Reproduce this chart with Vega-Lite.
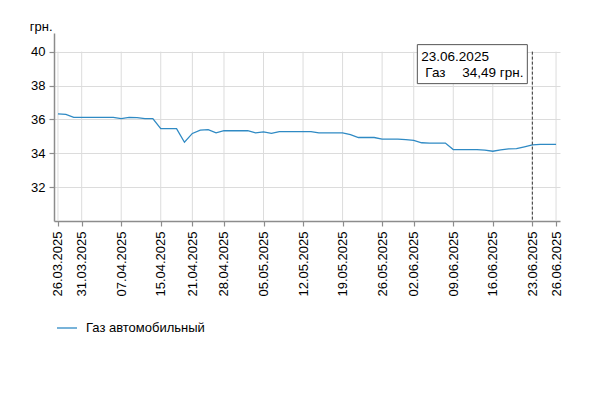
{
  "$schema": "https://vega.github.io/schema/vega-lite/v6.json",
  "autosize": {"type": "none"},
  "padding": {"left": 54, "top": 33, "right": 41, "bottom": 172},
  "width": 506,
  "height": 188,
  "config": {
    "view": {"stroke": null},
    "font": "Liberation Sans",
    "axis": {
      "labelFont": "Liberation Sans",
      "labelFontSize": 13,
      "labelColor": "#000000",
      "domainColor": "#8c8c8c",
      "domainWidth": 1.5,
      "tickColor": "#8c8c8c",
      "tickWidth": 1.2,
      "tickSize": 5,
      "gridColor": "#dcdcdc",
      "gridWidth": 1
    }
  },
  "data": {
    "values": [
      {"date": "26.03.2025", "price": 36.33},
      {"date": "27.03.2025", "price": 36.30},
      {"date": "28.03.2025", "price": 36.12},
      {"date": "31.03.2025", "price": 36.12},
      {"date": "01.04.2025", "price": 36.12},
      {"date": "02.04.2025", "price": 36.12},
      {"date": "03.04.2025", "price": 36.12},
      {"date": "04.04.2025", "price": 36.12},
      {"date": "07.04.2025", "price": 36.05},
      {"date": "08.04.2025", "price": 36.12},
      {"date": "09.04.2025", "price": 36.10},
      {"date": "10.04.2025", "price": 36.05},
      {"date": "11.04.2025", "price": 36.05},
      {"date": "15.04.2025", "price": 35.45},
      {"date": "16.04.2025", "price": 35.45},
      {"date": "17.04.2025", "price": 35.45},
      {"date": "18.04.2025", "price": 34.65},
      {"date": "21.04.2025", "price": 35.17},
      {"date": "22.04.2025", "price": 35.37},
      {"date": "23.04.2025", "price": 35.40},
      {"date": "24.04.2025", "price": 35.20},
      {"date": "28.04.2025", "price": 35.33},
      {"date": "29.04.2025", "price": 35.33},
      {"date": "30.04.2025", "price": 35.33},
      {"date": "01.05.2025", "price": 35.33},
      {"date": "02.05.2025", "price": 35.20},
      {"date": "05.05.2025", "price": 35.26},
      {"date": "06.05.2025", "price": 35.18},
      {"date": "07.05.2025", "price": 35.28},
      {"date": "08.05.2025", "price": 35.28},
      {"date": "09.05.2025", "price": 35.28},
      {"date": "12.05.2025", "price": 35.28},
      {"date": "13.05.2025", "price": 35.28},
      {"date": "14.05.2025", "price": 35.20},
      {"date": "15.05.2025", "price": 35.20},
      {"date": "16.05.2025", "price": 35.20},
      {"date": "19.05.2025", "price": 35.20},
      {"date": "20.05.2025", "price": 35.10},
      {"date": "21.05.2025", "price": 34.93},
      {"date": "22.05.2025", "price": 34.93},
      {"date": "23.05.2025", "price": 34.93},
      {"date": "26.05.2025", "price": 34.83},
      {"date": "27.05.2025", "price": 34.83},
      {"date": "28.05.2025", "price": 34.83},
      {"date": "29.05.2025", "price": 34.80},
      {"date": "02.06.2025", "price": 34.76},
      {"date": "03.06.2025", "price": 34.62},
      {"date": "04.06.2025", "price": 34.60},
      {"date": "05.06.2025", "price": 34.60},
      {"date": "06.06.2025", "price": 34.60},
      {"date": "09.06.2025", "price": 34.22},
      {"date": "10.06.2025", "price": 34.22},
      {"date": "11.06.2025", "price": 34.22},
      {"date": "12.06.2025", "price": 34.22},
      {"date": "13.06.2025", "price": 34.19},
      {"date": "16.06.2025", "price": 34.12},
      {"date": "17.06.2025", "price": 34.20},
      {"date": "18.06.2025", "price": 34.26},
      {"date": "19.06.2025", "price": 34.27},
      {"date": "20.06.2025", "price": 34.38},
      {"date": "23.06.2025", "price": 34.49},
      {"date": "24.06.2025", "price": 34.53},
      {"date": "25.06.2025", "price": 34.53},
      {"date": "26.06.2025", "price": 34.53}
    ]
  },
  "encoding": {
    "x": {
      "field": "date",
      "type": "ordinal",
      "sort": null,
      "title": null,
      "scale": {
        "type": "point",
        "padding": 0.5,
        "domain": ["26.03.2025","27.03.2025","28.03.2025","31.03.2025","01.04.2025","02.04.2025","03.04.2025","04.04.2025","07.04.2025","08.04.2025","09.04.2025","10.04.2025","11.04.2025","15.04.2025","16.04.2025","17.04.2025","18.04.2025","21.04.2025","22.04.2025","23.04.2025","24.04.2025","28.04.2025","29.04.2025","30.04.2025","01.05.2025","02.05.2025","05.05.2025","06.05.2025","07.05.2025","08.05.2025","09.05.2025","12.05.2025","13.05.2025","14.05.2025","15.05.2025","16.05.2025","19.05.2025","20.05.2025","21.05.2025","22.05.2025","23.05.2025","26.05.2025","27.05.2025","28.05.2025","29.05.2025","02.06.2025","03.06.2025","04.06.2025","05.06.2025","06.06.2025","09.06.2025","10.06.2025","11.06.2025","12.06.2025","13.06.2025","16.06.2025","17.06.2025","18.06.2025","19.06.2025","20.06.2025","23.06.2025","24.06.2025","25.06.2025","26.06.2025"]
      },
      "axis": {
        "values": ["26.03.2025","31.03.2025","07.04.2025","15.04.2025","21.04.2025","28.04.2025","05.05.2025","12.05.2025","19.05.2025","26.05.2025","02.06.2025","09.06.2025","16.06.2025","23.06.2025","26.06.2025"],
        "labelAngle": -90,
        "labelAlign": "right",
        "labelBaseline": "middle",
        "labelPadding": 5,
        "grid": false
      }
    }
  },
  "layer": [
    {
      "data": {
        "values": [
          {"date": "26.03.2025"}, {"date": "31.03.2025"}, {"date": "07.04.2025"}, {"date": "15.04.2025"},
          {"date": "21.04.2025"}, {"date": "28.04.2025"}, {"date": "05.05.2025"}, {"date": "12.05.2025"},
          {"date": "19.05.2025"}, {"date": "26.05.2025"}, {"date": "02.06.2025"}, {"date": "09.06.2025"},
          {"date": "16.06.2025"}, {"date": "23.06.2025"}, {"date": "26.06.2025"}
        ]
      },
      "mark": {"type": "rule", "color": "#dcdcdc", "strokeWidth": 1},
      "encoding": {
        "y": {"datum": 30, "type": "quantitative"},
        "y2": {"datum": 40}
      }
    },
    {
      "mark": {"type": "line", "strokeWidth": 1.3, "interpolate": "linear"},
      "encoding": {
        "y": {
          "field": "price",
          "type": "quantitative",
          "scale": {"domain": [30, 41.1], "nice": false, "zero": false},
          "axis": {
            "values": [32, 34, 36, 38, 40],
            "grid": true,
            "labelPadding": 4,
            "title": "грн.",
            "titleAngle": 0,
            "titleAlign": "right",
            "titleBaseline": "alphabetic",
            "titleX": -2,
            "titleY": -3,
            "titleFont": "Liberation Sans",
            "titleFontSize": 13,
            "titleFontWeight": "normal",
            "titleColor": "#000000"
          }
        },
        "color": {
          "datum": "Газ автомобильный",
          "scale": {"range": ["#2f8ac4"]},
          "legend": {
            "title": null,
            "orient": "none",
            "legendX": 2,
            "legendY": 284,
            "symbolType": "stroke",
            "symbolSize": 400,
            "symbolStrokeWidth": 1.3,
            "labelFont": "Liberation Sans",
            "labelFontSize": 13,
            "labelColor": "#000000",
            "labelOffset": 8,
            "padding": 0
          }
        }
      }
    },
    {
      "data": {"values": [{"date": "23.06.2025", "name": "Газ", "value": "34,49 грн."}]},
      "mark": {"type": "rule", "color": "#333333", "strokeWidth": 1, "strokeDash": [3, 2]},
      "encoding": {
        "y": {"datum": 40, "type": "quantitative"},
        "y2": {"datum": 30}
      }
    },
    {
      "data": {"values": [{"date": "23.06.2025", "name": "Газ", "value": "34,49 грн."}]},
      "mark": {"type": "rect", "fill": "#ffffff", "stroke": "#555555", "strokeWidth": 1, "xOffset": -115, "x2Offset": -5, "yOffset": -7, "y2Offset": 32},
      "encoding": {
        "x2": {"field": "date"},
        "y": {"datum": 40, "type": "quantitative"},
        "y2": {"datum": 40}
      }
    },
    {
      "data": {"values": [{"date": "23.06.2025", "name": "Газ", "value": "34,49 грн."}]},
      "mark": {"type": "text", "align": "left", "baseline": "alphabetic", "dx": -111, "dy": 9, "fontSize": 13.5, "font": "Liberation Sans", "color": "#000000"},
      "encoding": {
        "y": {"datum": 40, "type": "quantitative"},
        "text": {"field": "date"}
      }
    },
    {
      "data": {"values": [{"date": "23.06.2025", "name": "Газ", "value": "34,49 грн."}]},
      "mark": {"type": "text", "align": "left", "baseline": "alphabetic", "dx": -107, "dy": 25, "fontSize": 13.5, "font": "Liberation Sans", "color": "#000000"},
      "encoding": {
        "y": {"datum": 40, "type": "quantitative"},
        "text": {"field": "name"}
      }
    },
    {
      "data": {"values": [{"date": "23.06.2025", "name": "Газ", "value": "34,49 грн."}]},
      "mark": {"type": "text", "align": "left", "baseline": "alphabetic", "dx": -70, "dy": 25, "fontSize": 13.5, "font": "Liberation Sans", "color": "#000000"},
      "encoding": {
        "y": {"datum": 40, "type": "quantitative"},
        "text": {"field": "value"}
      }
    }
  ]
}
